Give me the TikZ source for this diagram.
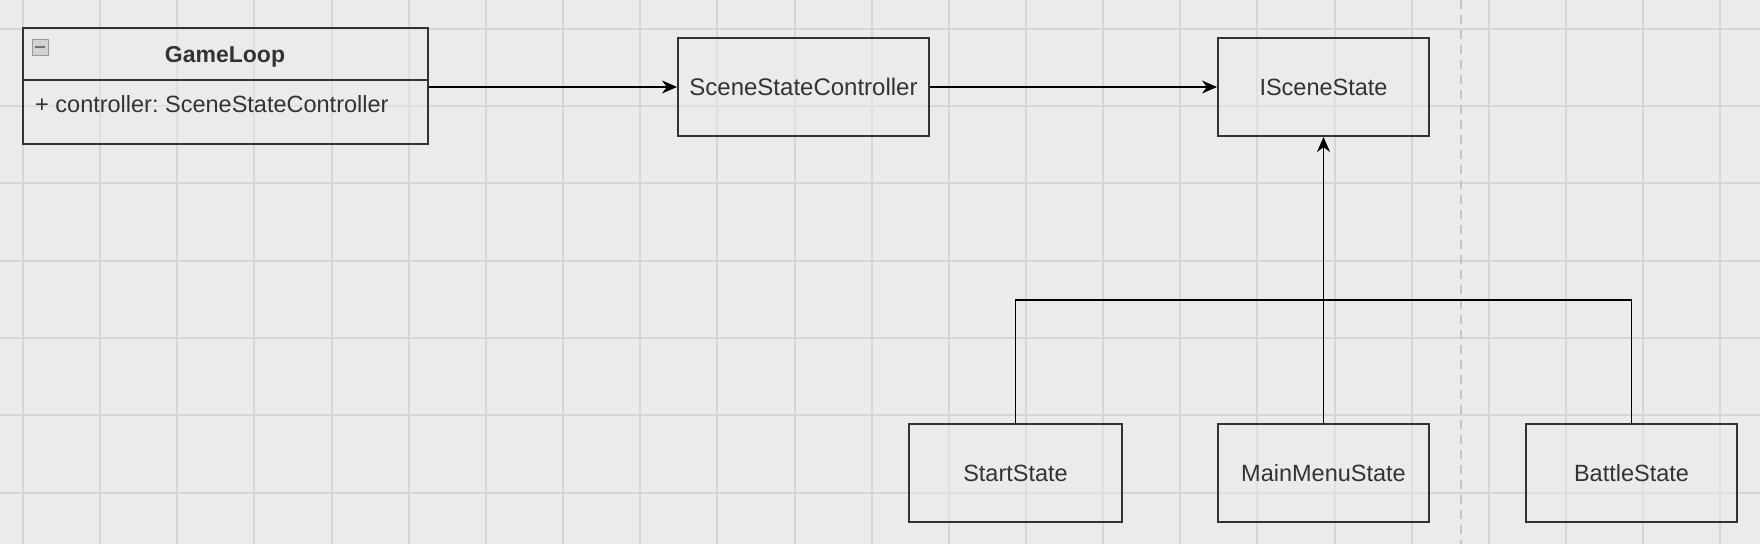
\documentclass[tikz,border=0pt]{standalone}
\usepackage{fontspec}
\setmainfont{Liberation Sans}
\usetikzlibrary{arrows.meta}
\frenchspacing
\definecolor{bgcol}{HTML}{EBEBEB}
\definecolor{gridcol}{HTML}{D6D6D6}
\definecolor{linecol}{HTML}{333333}
\definecolor{txtcol}{HTML}{333333}
\definecolor{pagecol}{HTML}{C4C4C4}
\tikzset{
  box/.style={draw=linecol, line width=2pt, fill=bgcol, fill opacity=0.45, text opacity=1, text=txtcol, rectangle, inner sep=0pt, font=\fontsize{23.5}{28}\selectfont},
  lbl/.style={text=txtcol, inner sep=0pt, font=\fontsize{23.5}{28}\selectfont},
  arr/.style={draw=black, line width=1.8pt, -{Stealth[length=15pt,width=13pt]}},
  conn/.style={draw=black, line width=1.8pt},
  gridline/.style={draw=gridcol, line width=2pt},
  pageline/.style={draw=pagecol, line width=2pt, dash pattern=on 9pt off 6pt}
}
\begin{document}
\begin{tikzpicture}[x=1pt,y=-1pt]
\useasboundingbox (0,0) rectangle (1760,544);
\fill[bgcol] (0,0) rectangle (1760,544);
% grid
\foreach \k in {0,...,22} { \draw[gridline] ({23+77.15*\k},0) -- ({23+77.15*\k},544); }
\foreach \k in {0,...,6} { \draw[gridline] (0,{28.8+77.3*\k}) -- (1760,{28.8+77.3*\k}); }
% page break line
\draw[pageline] (1461,0) -- (1461,544);

% GameLoop class
\node[box, minimum width=405pt, minimum height=116pt] (gl) at (225.5,86) {};
\draw[draw=linecol, line width=2pt] (23,80) -- (428,80);
\node[lbl, font=\bfseries\fontsize{23}{28}\selectfont] (gltitle) at (225,57) {GameLoop};
\node[lbl, anchor=west] (glattr) at (35,104) {+ controller: SceneStateController};
\node[draw=gray!80, fill=gray!35, line width=1pt, minimum size=16pt, inner sep=0pt] (glicon) at (40,47) {};
\draw[draw=gray!90!black, line width=1.6pt] ([xshift=-5pt]glicon.center) -- ([xshift=5pt]glicon.center);

% other classes
\node[box, minimum width=251pt, minimum height=98pt, font=\fontsize{24}{28}\selectfont] (ssc) at (803.5,87) {SceneStateController};
\node[box, minimum width=211pt, minimum height=98pt] (iss) at (1323.5,87) {ISceneState};
\node[box, minimum width=213pt, minimum height=98pt] (ss) at (1015.5,473) {StartState};
\node[box, minimum width=211pt, minimum height=98pt] (mm) at (1323.5,473) {MainMenuState};
\node[box, minimum width=211pt, minimum height=98pt] (bs) at (1631.5,473) {BattleState};

% connectors
\coordinate (bar) at (1323.5,300);
\draw[arr] (gl.east |- ssc.west) -- (ssc.west);
\draw[arr] (ssc.east) -- (iss.west);
\draw[arr] (mm.north) -- (iss.south);
\draw[conn] (ss.north) -- (ss.north |- bar) -- (bs.north |- bar) -- (bs.north);
\end{tikzpicture}
\end{document}
